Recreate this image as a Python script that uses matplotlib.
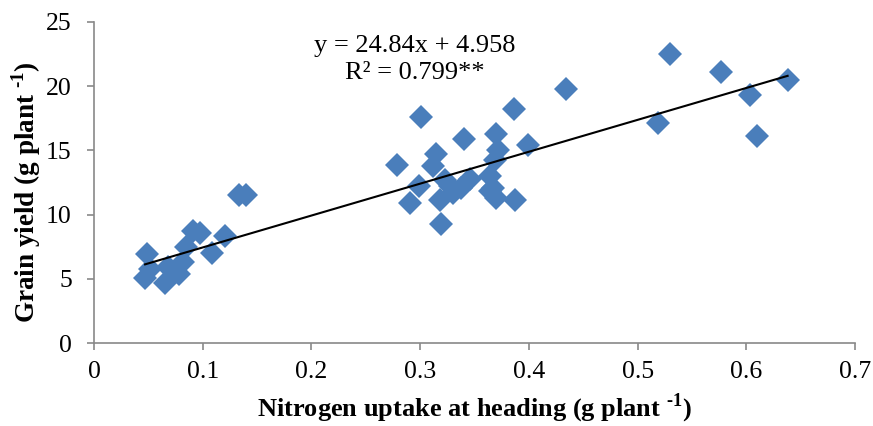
import numpy as np
import matplotlib
matplotlib.use("Agg")
import matplotlib.pyplot as plt

plt.rcParams["font.family"] = ["Liberation Serif", "DejaVu Serif"]
plt.rcParams["mathtext.fontset"] = "custom"
plt.rcParams["mathtext.rm"] = "Liberation Serif:bold"
plt.rcParams["mathtext.bf"] = "Liberation Serif:bold"

# Nitrogen uptake at heading (g plant-1) vs grain yield (g plant-1)
n_uptake = [0.049, 0.047, 0.0515, 0.065, 0.068, 0.078, 0.082, 0.0847, 0.091,
            0.0975, 0.109, 0.1205, 0.1337, 0.140,
            0.279, 0.291, 0.299, 0.301, 0.312, 0.315, 0.318, 0.319, 0.323,
            0.3275, 0.3305, 0.338, 0.340, 0.346, 0.364, 0.364, 0.367, 0.369,
            0.370, 0.370, 0.372, 0.386, 0.387, 0.3995, 0.434,
            0.519, 0.530, 0.577, 0.6035, 0.610, 0.638]
grain_yield = [6.9, 5.1, 5.8, 4.65, 5.9, 5.4, 6.3, 7.5, 8.7,
               8.6, 7.0, 8.3, 11.55, 11.5,
               13.9, 10.9, 12.2, 17.6, 13.8, 14.7, 11.1, 9.3, 12.7,
               12.2, 11.7, 12.05, 15.9, 12.75, 13.0, 11.8, 12.1, 14.25,
               16.3, 11.3, 15.0, 18.2, 11.1, 15.4, 19.75,
               17.15, 22.5, 21.1, 19.3, 16.1, 20.45]

slope, intercept = 24.84, 4.958
x_ticks = [0, 0.1, 0.2, 0.3, 0.4, 0.5, 0.6, 0.7]
x_tick_labels = ["0", "0.1", "0.2", "0.3", "0.4", "0.5", "0.6", "0.7"]
y_ticks = [0, 5, 10, 15, 20, 25]

fig = plt.figure(figsize=(8.73, 4.26), dpi=100)
ax = fig.add_axes([94 / 873, 1 - 343 / 426, (855 - 94) / 873, (343 - 22) / 426])

ax.plot(n_uptake, grain_yield, linestyle="", marker="D", markersize=12,
        color="#4a7ebb", markeredgewidth=0, zorder=3)

xs = np.array([min(n_uptake), max(n_uptake)])
ax.plot(xs, slope * xs + intercept, color="black", linewidth=1.5, zorder=4)

ax.text(0.295, 22.05, "y = 24.84x + 4.958\nR² = 0.799**", ha="center",
        va="center", fontsize=19, linespacing=1.3)

ax.set_xlim(0, 0.7)
ax.set_ylim(0, 25)
ax.set_xticks(x_ticks)
ax.set_xticklabels(x_tick_labels)
ax.set_yticks(y_ticks)
ax.tick_params(labelsize=18.5, color="#898989", length=5, width=1.2)
ax.tick_params(axis="x", pad=8)
ax.tick_params(axis="y", pad=11)

for side in ["top", "right"]:
    ax.spines[side].set_visible(False)
for side in ["left", "bottom"]:
    ax.spines[side].set_color("#898989")
    ax.spines[side].set_linewidth(1.2)

ax.set_xlabel(r"Nitrogen uptake at heading (g plant $^{\text{-1}}$)",
              fontsize=19, fontweight="bold", labelpad=6)
ax.set_ylabel(r"Grain yield (g plant $^{\text{-1}}$)",
              fontsize=19.5, fontweight="bold", labelpad=2)
ax.yaxis.label.set_y(0.47)

fig.savefig("out.png", dpi=100)
